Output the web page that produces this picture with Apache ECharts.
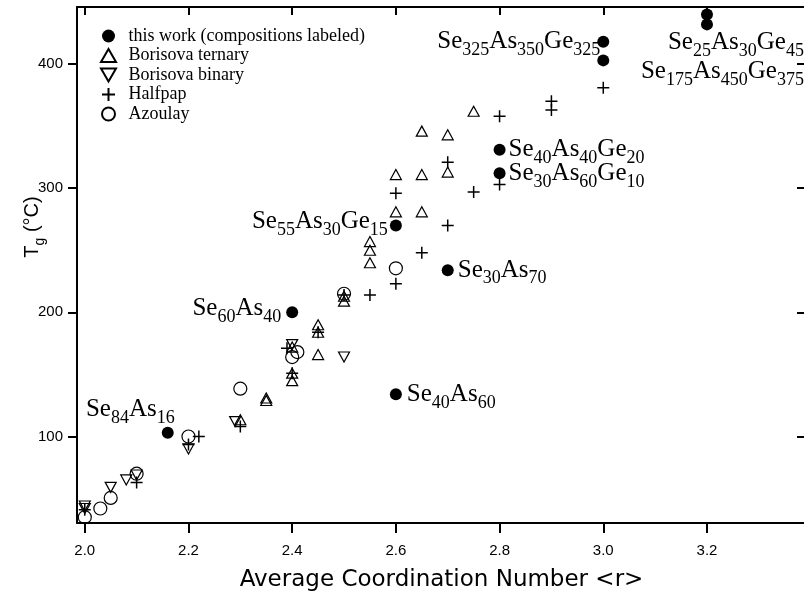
<!DOCTYPE html>
<html>
<head>
    <meta http-equiv="Content-Type" content="text/html; charset=UTF-8">
    <title>Tg vs average coordination number</title>
    <script src="https://cdn.jsdelivr.net/npm/echarts@6/dist/echarts.min.js"></script>
    <style>
        html, body { margin: 0; padding: 0; background: #fff; }
    </style>
</head>
<body>
<div id="chart" style="width: 804px; height: 595px;"></div>

<script type="text/javascript">
    // ---- data: [<r>, Tg] ----
    var thisWork = [
        [2.16, 103], [2.4, 200], [2.6, 134], [2.6, 270], [2.7, 234],
        [2.8, 331], [2.8, 312], [3.0, 418], [3.0, 403], [3.2, 440], [3.2, 432]
    ];
    var thisWorkNames = [
        'Se84As16', 'Se60As40', 'Se40As60', 'Se55As30Ge15', 'Se30As70',
        'Se40As40Ge20', 'Se30As60Ge10', 'Se325As350Ge325', '', 'Se25As30Ge45', 'Se175As450Ge375'
    ];
    var borisovaTernary = [
        [2.3, 113.5], [2.35, 131], [2.35, 129], [2.4, 151], [2.4, 145], [2.4, 172],
        [2.45, 190], [2.45, 184], [2.45, 166], [2.5, 213], [2.5, 209],
        [2.55, 257], [2.55, 250], [2.55, 240], [2.6, 311], [2.6, 281],
        [2.65, 346], [2.65, 311], [2.65, 281], [2.7, 343], [2.7, 313], [2.75, 362]
    ];
    var borisovaBinary = [
        [2.0, 44], [2.0, 42], [2.05, 59], [2.08, 65], [2.1, 69],
        [2.2, 90], [2.29, 112], [2.4, 174], [2.5, 164]
    ];
    var halfpap = [
        [2.0, 41], [2.1, 63], [2.2, 93.5], [2.22, 100], [2.3, 108],
        [2.39, 171], [2.4, 151], [2.45, 184], [2.5, 214], [2.55, 214],
        [2.6, 223], [2.6, 296], [2.65, 248], [2.7, 270], [2.7, 321],
        [2.75, 297], [2.8, 303], [2.8, 358], [2.9, 370], [2.9, 363], [3.0, 381]
    ];
    var azoulay = [
        [2.0, 35], [2.03, 42], [2.05, 50.5], [2.1, 70], [2.2, 100],
        [2.3, 138.5], [2.41, 168], [2.4, 164], [2.5, 215], [2.6, 235.5]
    ];
    var seriesNames = ['this work (compositions labeled)', 'Borisova ternary', 'Borisova binary', 'Halfpap', 'Azoulay'];
    var xTicks = [2.0, 2.2, 2.4, 2.6, 2.8, 3.0, 3.2];
    var yTicks = [100, 200, 300, 400];

    // where each composition label sits relative to its dot
    var labelPlace = {
        'Se84As16':        { position: 'left',  offset: [18, -23] },
        'Se60As40':        { position: 'left',  offset: [0, -4] },
        'Se40As60':        { position: 'right', offset: [0, 0] },
        'Se55As30Ge15':    { position: 'left',  offset: [3, -4] },
        'Se30As70':        { position: 'right', offset: [-1, 0] },
        'Se40As40Ge20':    { position: 'right', offset: [-2, 0] },
        'Se30As60Ge10':    { position: 'right', offset: [-2, 0] },
        'Se325As350Ge325': { position: 'left',  offset: [8, 0] },
        'Se25As30Ge45':    { position: 'right', offset: [-50, 28] },
        'Se175As450Ge375': { position: 'right', offset: [-77, 47] }
    };

    // chemical formula -> rich text with subscripts
    function formula(s) {
        return s.replace(/([A-Za-z]+)|(\d+)/g, function (m, a, d) {
            return a ? '{n|' + a + '}' : '{s|' + d + '}';
        });
    }

    var richFormula = {
        n: { fontFamily: 'Liberation Serif', fontSize: 25, color: '#000', lineHeight: 25, verticalAlign: 'top' },
        s: { fontFamily: 'Liberation Serif', fontSize: 18, color: '#000', lineHeight: 18, padding: [12, 0, 0, 0], verticalAlign: 'top' }
    };

    var plusPath = 'path://M5,0L5,10M0,5L10,5';
    var downTri = 'path://M0,0L10,0L5,8.66Z';
    var upTri = 'path://M5,0L10,8.66L0,8.66Z';

    var hollow = { color: 'transparent', borderColor: '#000', borderWidth: 1.2, opacity: 1 };

    var chart = echarts.init(document.getElementById('chart'));

    var axisCommonX = {
        type: 'value',
        min: 1.985,
        max: 3.391,
        splitLine: { show: false },
        axisLine: { show: true, onZero: false, lineStyle: { color: '#000', width: 2 } }
    };
    var axisCommonY = {
        type: 'value',
        min: 30.3,
        max: 446,
        splitLine: { show: false },
        axisLine: { show: true, onZero: false, lineStyle: { color: '#000', width: 2 } }
    };

    chart.setOption({
        animation: false,
        backgroundColor: '#fff',
        grid: { left: 77, right: -2, top: 7, bottom: 72, containLabel: false, outerBoundsMode: 'none' },
        legend: {
            orient: 'vertical',
            left: 95,
            top: 22,
            itemWidth: 30,
            itemHeight: 13,
            itemGap: 1.5,
            textStyle: { fontFamily: 'Liberation Serif', fontSize: 18, lineHeight: 18, color: '#000' },
            data: seriesNames
        },
        xAxis: [
            Object.assign({}, axisCommonX, {
                position: 'bottom',
                name: 'Average Coordination Number <r>',
                nameLocation: 'middle',
                nameGap: 46,
                nameMoveOverlap: false,
                nameTextStyle: { fontFamily: 'DejaVu Sans', fontSize: 23, color: '#000' },
                axisTick: { show: true, inside: false, length: 10, customValues: xTicks, lineStyle: { color: '#000', width: 2 } },
                axisLabel: {
                    show: true, margin: 20, customValues: xTicks,
                    fontFamily: 'Liberation Sans', fontSize: 15, color: '#000',
                    formatter: function (v) { return v.toFixed(1); }
                }
            }),
            Object.assign({}, axisCommonX, {
                position: 'top',
                axisTick: { show: true, inside: true, length: 8, customValues: xTicks, lineStyle: { color: '#000', width: 2 } },
                axisLabel: { show: false }
            })
        ],
        yAxis: [
            Object.assign({}, axisCommonY, {
                position: 'left',
                name: '{n|T}{s|g}{n| (°C)}',
                nameLocation: 'middle',
                nameRotate: 90,
                nameGap: 34,
                nameMoveOverlap: false,
                nameTextStyle: {
                    padding: [0, 0, 0, 76],
                    rich: {
                        n: { fontFamily: 'Liberation Sans', fontSize: 20, color: '#000', lineHeight: 21, verticalAlign: 'top' },
                        s: { fontFamily: 'Liberation Sans', fontSize: 14, color: '#000', lineHeight: 14, padding: [11, 0, 0, 0], verticalAlign: 'top' }
                    }
                },
                axisTick: { show: true, inside: false, length: 9, customValues: yTicks, lineStyle: { color: '#000', width: 2 } },
                axisLabel: {
                    show: true, margin: 14, customValues: yTicks,
                    fontFamily: 'Liberation Sans', fontSize: 15, color: '#000'
                }
            }),
            Object.assign({}, axisCommonY, {
                position: 'right',
                axisTick: { show: true, inside: true, length: 9, customValues: yTicks, lineStyle: { color: '#000', width: 2 } },
                axisLabel: { show: false }
            })
        ],
        series: [
            {
                name: seriesNames[0],
                type: 'scatter',
                symbol: 'circle',
                symbolSize: 12,
                itemStyle: { color: '#000', opacity: 1 },
                z: 5,
                data: thisWork.map(function (p, i) {
                    var nm = thisWorkNames[i];
                    var place = labelPlace[nm] || { position: 'right', offset: [0, 0] };
                    return {
                        value: p,
                        name: nm,
                        label: {
                            show: nm !== '',
                            position: place.position,
                            offset: place.offset,
                            color: '#000',
                            opacity: 1,
                            formatter: formula(nm),
                            rich: richFormula
                        }
                    };
                })
            },
            {
                name: seriesNames[1],
                type: 'scatter',
                symbol: upTri,
                symbolSize: [11, 10],
                itemStyle: hollow,
                data: borisovaTernary
            },
            {
                name: seriesNames[2],
                type: 'scatter',
                symbol: downTri,
                symbolSize: [11, 10],
                itemStyle: hollow,
                data: borisovaBinary
            },
            {
                name: seriesNames[3],
                type: 'scatter',
                symbol: plusPath,
                symbolSize: 12,
                itemStyle: { color: 'transparent', borderColor: '#000', borderWidth: 1.5, opacity: 1 },
                data: halfpap
            },
            {
                name: seriesNames[4],
                type: 'scatter',
                symbol: 'circle',
                symbolSize: 13,
                itemStyle: hollow,
                data: azoulay
            }
        ]
    });
</script>

</body>
</html>
